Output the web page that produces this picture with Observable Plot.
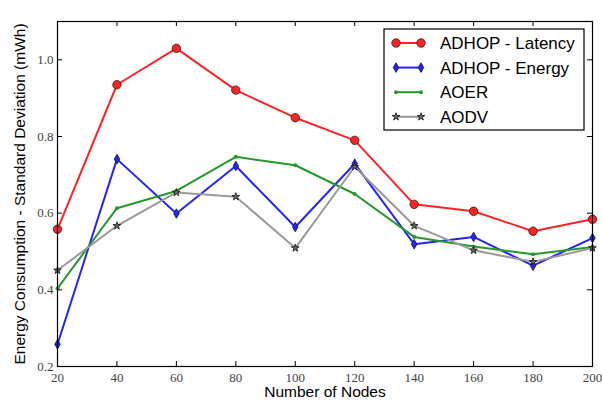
<!DOCTYPE html>
<html>
<head>
<meta charset="utf-8">
<script src="https://cdn.jsdelivr.net/npm/d3@7"></script>
<script src="https://cdn.jsdelivr.net/npm/@observablehq/plot@0.6"></script>
<style>
  html, body { margin: 0; padding: 0; background: #fff; }
  #chart { position: relative; width: 602px; height: 400px; }
</style>
</head>
<body>
<div id="chart"></div>
<script>
const nodes = [20, 40, 60, 80, 100, 120, 140, 160, 180, 200];
const latency = [0.558, 0.935, 1.030, 0.921, 0.849, 0.790, 0.623, 0.605, 0.553, 0.584];
const energy  = [0.258, 0.741, 0.599, 0.723, 0.564, 0.729, 0.519, 0.538, 0.463, 0.535];
const aoer    = [0.404, 0.613, 0.658, 0.747, 0.725, 0.650, 0.538, 0.513, 0.493, 0.512];
const aodv    = [0.451, 0.567, 0.654, 0.643, 0.509, 0.721, 0.567, 0.503, 0.473, 0.509];
const seriesNames = ["ADHOP - Latency", "ADHOP - Energy", "AOER", "AODV"];
const xTicks = [20, 40, 60, 80, 100, 120, 140, 160, 180, 200];
const yTicks = [0.2, 0.4, 0.6, 0.8, 1.0];
const xLabel = "Number of Nodes";
const yLabel = "Energy Consumption - Standard Deviation (mWh)";

const styles = [
  {values: latency, color: "#ff2424", symbol: "circle", r: 4.2, fill: "#ff2424", stroke: "#3a1010", sw: 0.8},
  {values: energy,  color: "#2424ff", symbol: "diamond", r: 2.9, fill: "#2424ff", stroke: "#10103a", sw: 0.8},
  {values: aoer,    color: "#25992a", symbol: "circle", r: 2.0, fill: "#25992a", stroke: "#25992a", sw: 0},
  {values: aodv,    color: "#9a9a9a", symbol: "star", r: 2.4, fill: "#6a6a6a", stroke: "#111", sw: 0.8}
];

const W = 602, H = 400, mL = 57, mR = 10, mT = 21, mB = 34;
const pw = W - mL - mR, ph = H - mT - mB;
const tickLen = 5;

const marks = [];
styles.forEach((s) => {
  const data = nodes.map((n, j) => ({n, v: s.values[j]}));
  marks.push(Plot.line(data, {x: "n", y: "v", stroke: s.color, strokeWidth: 2}));
});
styles.forEach((s) => {
  const data = nodes.map((n, j) => ({n, v: s.values[j]}));
  marks.push(Plot.dot(data, {x: "n", y: "v", symbol: () => s.symbol, r: s.r, fill: s.fill, stroke: s.stroke, strokeWidth: s.sw}));
});

const serif = "'Liberation Serif', 'DejaVu Serif', serif";
const sans = "'Liberation Sans', Arial, sans-serif";

const plot = Plot.plot({
  width: W, height: H,
  marginLeft: mL, marginRight: mR, marginTop: mT, marginBottom: mB,
  style: {background: "#fff", overflow: "visible"},
  x: {domain: [20, 200]},
  y: {domain: [0.2, 1.1]},
  marks: [
    Plot.axisX(xTicks, {tickSize: 0, tickPadding: 6, fontSize: 13, fontFamily: serif, fill: "#444", label: null, tickFormat: d => String(d)}),
    Plot.axisY(yTicks, {tickSize: 0, tickPadding: 4, fontSize: 13, fontFamily: serif, fill: "#444", label: null, tickFormat: d => d.toFixed(1)}),
    ...marks,
    // inward ticks on all four sides
    Plot.tickX(xTicks, {x: d => d, insetTop: ph - tickLen, stroke: "#000", strokeWidth: 1}),
    Plot.tickX(xTicks, {x: d => d, insetBottom: ph - tickLen, stroke: "#000", strokeWidth: 1}),
    Plot.tickY(yTicks, {y: d => d, insetRight: pw - tickLen, stroke: "#000", strokeWidth: 1}),
    Plot.tickY(yTicks, {y: d => d, insetLeft: pw - tickLen, stroke: "#000", strokeWidth: 1}),
    Plot.frame({stroke: "#000", strokeWidth: 1.2}),
    Plot.text([xLabel], {text: d => d, frameAnchor: "bottom", textAnchor: "middle", dy: 26, lineAnchor: "middle", fontSize: 15.5, fontFamily: sans, fill: "#000"}),
    Plot.text([yLabel], {text: d => d, frameAnchor: "left", textAnchor: "middle", dx: -37, rotate: -90, lineAnchor: "middle", fontSize: 15.5, fontFamily: sans, fill: "#000"})
  ]
});

document.getElementById("chart").appendChild(plot);

// Legend drawn inside the SVG, top right
const svg = d3.select(plot);
const lg = svg.append("g").attr("transform", "translate(384,29)").attr("text-anchor", "start");
lg.append("rect").attr("width", 200).attr("height", 101).attr("fill", "#fff").attr("stroke", "#000").attr("stroke-width", 1.2);
styles.forEach((s, i) => {
  const y = 14 + i * 24.6;
  const row = lg.append("g").attr("transform", `translate(0,${y})`);
  row.append("line").attr("x1", 12).attr("x2", 37).attr("y1", 0).attr("y2", 0).attr("stroke", s.color).attr("stroke-width", 2);
  const symType = s.symbol === "diamond" ? d3.symbolDiamond : s.symbol === "star" ? d3.symbolStar : d3.symbolCircle;
  const size = Math.PI * s.r * s.r;
  [12, 37].forEach(x => {
    row.append("path").attr("d", d3.symbol(symType, size)()).attr("transform", `translate(${x},0)`)
      .attr("fill", s.fill).attr("stroke", s.stroke).attr("stroke-width", s.sw);
  });
  row.append("text").attr("x", 56).attr("y", 0).attr("dy", "0.35em").attr("font-size", 17)
    .attr("text-anchor", "start").attr("font-family", sans).attr("fill", "#000").text(seriesNames[i]);
});
</script>
</body>
</html>
